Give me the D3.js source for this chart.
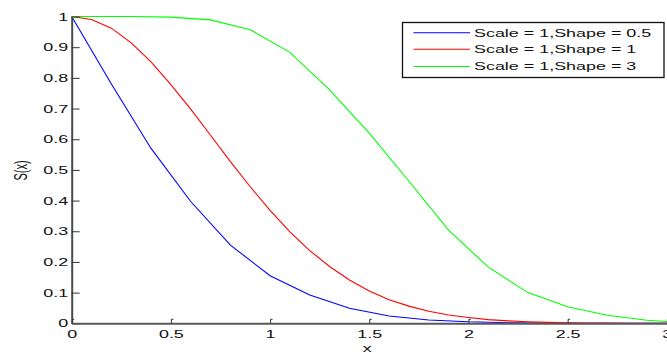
<!DOCTYPE html>
<html>
<head>
<meta charset="utf-8">
<script src="https://cdn.jsdelivr.net/npm/d3@7"></script>
<style>
  html, body { margin: 0; padding: 0; background: #fff; }
  svg { display: block; }
  text { font-family: "Liberation Sans", Arial, sans-serif; fill: #111; }
</style>
</head>
<body>
<svg id="chart" width="667" height="354"></svg>
<script>
// Survival curves S(x)
const seriesNames = ["Scale = 1,Shape = 0.5", "Scale = 1,Shape = 1", "Scale = 1,Shape = 3"];
const seriesColors = ["#0000ff", "#ff0000", "#00ff00"];

const blueX = [0, 0.2, 0.4, 0.6, 0.8, 1.0, 1.2, 1.4, 1.6, 1.8, 2.0, 2.2, 2.4, 2.6, 2.8, 3.0];
const blueY = [1, 0.78, 0.57, 0.397, 0.255, 0.155, 0.092, 0.049, 0.024, 0.011, 0.005, 0.002, 0.001, 0, 0, 0];

const redX = [0, 0.1, 0.2, 0.3, 0.4, 0.5, 0.6, 0.7, 0.8, 0.9, 1.0, 1.1, 1.2, 1.3, 1.4, 1.5,
              1.6, 1.7, 1.8, 1.9, 2.0, 2.1, 2.2, 2.3, 2.4, 2.5, 2.6, 2.7, 2.8, 2.9, 3.0];
const redY = [1, 0.99, 0.962, 0.914, 0.852, 0.778, 0.698, 0.613, 0.527, 0.445, 0.368, 0.298, 0.237, 0.185, 0.141, 0.105,
              0.077, 0.056, 0.039, 0.027, 0.019, 0.012, 0.008, 0.005, 0.003, 0.002, 0.001, 0.001, 0, 0, 0];

const greenX = [0, 0.1, 0.3, 0.5, 0.7, 0.9, 1.1, 1.3, 1.5, 1.7, 1.9, 2.1, 2.3, 2.5, 2.7, 2.9, 3.0];
const greenY = [1, 1, 1, 0.998, 0.989, 0.957, 0.883, 0.761, 0.620, 0.463, 0.304, 0.183, 0.100, 0.054, 0.026, 0.010, 0.006];

const xTicks = [0, 0.5, 1, 1.5, 2, 2.5, 3];
const yTicks = [0, 0.1, 0.2, 0.3, 0.4, 0.5, 0.6, 0.7, 0.8, 0.9, 1];

const xLabel = "x";
const yLabel = "S(x)";

// horizontal stretch applied to all text
const SX = 1.63;
const FS = 11;

const svg = d3.select("#chart");

const x = d3.scaleLinear().domain([0, 3]).range([71.7, 666.8]);
const y = d3.scaleLinear().domain([0, 1]).range([323.3, 16.5]);

const series = [
  { name: seriesNames[0], color: seriesColors[0], pts: blueX.map((v, i) => [v, blueY[i]]) },
  { name: seriesNames[1], color: seriesColors[1], pts: redX.map((v, i) => [v, redY[i]]) },
  { name: seriesNames[2], color: seriesColors[2], pts: greenX.map((v, i) => [v, greenY[i]]) }
];

const line = d3.line().x(d => x(d[0])).y(d => y(d[1]));

// curves
svg.append("g").selectAll("path")
  .data(series)
  .join("path")
  .attr("d", d => line(d.pts))
  .attr("fill", "none")
  .attr("stroke", d => d.color)
  .attr("stroke-width", 1.1);

// y axis with inward ticks
const yAxis = svg.append("g")
  .attr("transform", `translate(${x(0)},0)`)
  .call(d3.axisLeft(y).tickValues(yTicks).tickFormat(d3.format("~g"))
    .tickSizeInner(-8).tickSizeOuter(0).tickPadding(3.5));
yAxis.select(".domain").attr("stroke", "#4a4a4a").attr("stroke-width", 2);
yAxis.selectAll(".tick line").attr("stroke", "#333").attr("stroke-width", 1);
yAxis.selectAll(".tick text")
  .attr("x", -3.5 / SX)
  .attr("transform", `scale(${SX},1)`)
  .attr("font-size", FS)
  .attr("font-family", "Liberation Sans, Arial, sans-serif")
  .attr("fill", "#111");

// x axis with short upward ticks
const xAxis = svg.append("g")
  .attr("transform", `translate(0,${y(0)})`)
  .call(d3.axisBottom(x).tickValues(xTicks).tickFormat(d3.format("~g"))
    .tickSizeInner(-4).tickSizeOuter(0).tickPadding(7));
xAxis.select(".domain").attr("stroke", "#5a5a5a").attr("stroke-width", 2);
xAxis.selectAll(".tick line").attr("stroke", "#333").attr("stroke-width", 1);
xAxis.selectAll(".tick").append("path")
  .attr("d", "M0,-4H2")
  .attr("stroke", "#333")
  .attr("stroke-width", 1)
  .attr("fill", "none");
xAxis.selectAll(".tick text")
  .attr("transform", `scale(${SX},1)`)
  .attr("font-size", FS)
  .attr("font-family", "Liberation Sans, Arial, sans-serif")
  .attr("fill", "#111");

// axis titles
svg.append("text")
  .attr("transform", `translate(${(x(0) + x(3)) / 2 - 2},352) scale(${SX},1)`)
  .attr("text-anchor", "middle")
  .attr("font-size", FS)
  .text(xLabel);

svg.append("text")
  .attr("transform", `translate(21,170.5) scale(${SX},1) rotate(-90)`)
  .attr("text-anchor", "middle")
  .attr("dy", "0.35em")
  .attr("font-size", FS)
  .text(yLabel);

// legend
const legend = svg.append("g");
legend.append("rect")
  .attr("x", 402.5).attr("y", 22.5)
  .attr("width", 261.5).attr("height", 55)
  .attr("fill", "#fff")
  .attr("stroke", "#111")
  .attr("stroke-width", 1.3);

const rowY = [32.7, 49.3, 66.5];
const rows = legend.selectAll("g.row")
  .data(series)
  .join("g")
  .attr("class", "row")
  .attr("transform", (d, i) => `translate(0,${rowY[i]})`);
rows.append("line")
  .attr("x1", 413.5).attr("x2", 470)
  .attr("stroke", d => d.color)
  .attr("stroke-width", 1.1);
rows.append("text")
  .attr("transform", `translate(474,0) scale(${SX},1)`)
  .attr("dy", "0.36em")
  .attr("font-size", FS)
  .text(d => d.name);
</script>
</body>
</html>
